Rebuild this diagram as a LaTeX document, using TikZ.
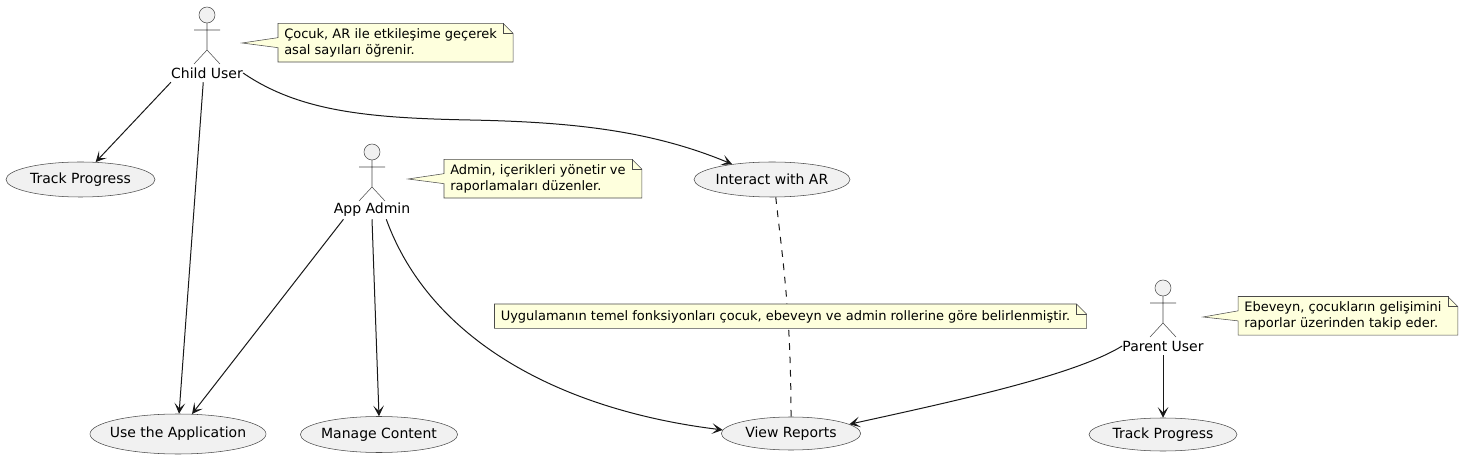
\documentclass[tikz,border=0pt]{standalone}
\usepackage{fontspec}
\setmainfont{DejaVu Sans}
\usetikzlibrary{arrows.meta,shapes.geometric,calc,backgrounds}
\definecolor{inkline}{HTML}{181818}
\definecolor{thinline}{HTML}{4A4A4A}
\definecolor{casefill}{HTML}{F1F1F1}
\definecolor{notefill}{HTML}{FEFFDD}
\tikzset{
  actorname/.style={inner sep=0pt,minimum height=13.5pt,font=\fontsize{10.5}{12}\selectfont,text=black},
  actorline/.style={draw=thinline,line width=.4pt,fill=casefill},
  usecase/.style={ellipse,draw=thinline,line width=.4pt,fill=casefill,inner sep=0pt,font=\fontsize{10.5}{12}\selectfont},
  notetext/.style={inner xsep=4.5pt,inner ysep=3.6pt,align=left,font=\fontsize{9.75}{12}\selectfont,execute at begin node={\rule{0pt}{8.7pt}}},
  noteline/.style={draw=thinline,line width=.4pt,fill=notefill},
  link/.style={draw=inkline,line width=.75pt,-{Stealth[length=8pt,width=8pt,inset=4pt]}},
  dashlink/.style={draw=inkline,line width=.75pt,dash pattern=on 5pt off 5pt},
}
% text of a use case, the ellipse keeps its own size
\newcommand{\casebox}[1]{\makebox[0pt]{#1}}
% stick figure above its name
\newcommand{\actorman}[1]{
  \draw[actorline] ($(#1)+(0,-58)$) circle (8);
  \draw[actorline,fill=none] ($(#1)+(0,-50)$) -- ($(#1)+(0,-23)$)
    ($(#1)+(-13,-43)$) -- ($(#1)+(13,-43)$)
    ($(#1)+(-13,-9)$) -- ($(#1)+(0,-23)$) -- ($(#1)+(13,-9)$);
}
% note outline, #2 is what happens on the left edge
\newcommand{\notebody}[2]{
  \filldraw[noteline] (#1.north west) -- (#1.north east) -- ($(#1.north east)+(10,10)$)
    -- ($(#1.south east)+(10,0)$) -- (#1.south west) -- ($(#1.west)+(0,5)$) #2 ($(#1.west)+(0,-5)$) -- cycle;
  \draw[noteline,fill=none] (#1.north east) -- ($(#1.north east)+(0,10)$) -- ($(#1.north east)+(10,10)$);
}
\begin{document}
\begin{tikzpicture}[x=.75pt,y=-.75pt]
\useasboundingbox (0,0) rectangle (1463,459);
% actors
\node[actorname] (childUser) at (207,73) {Child User};
\node[actorname] (appAdmin) at (372,210) {App Admin};
\node[actorname] (parentUser) at (1163,346) {Parent User};
\actorman{childUser}
\actorman{appAdmin}
\actorman{parentUser}
% use cases
\node[usecase,minimum width=111.75pt,minimum height=26.25pt] (trackChild) at (80.5,179.5) {\casebox{Track Progress}};
\node[usecase,minimum width=117pt,minimum height=26.25pt] (interactAR) at (772,179.5) {\casebox{Interact with AR}};
\node[usecase,minimum width=132pt,minimum height=30pt] (useApp) at (178,434) {\casebox{Use the Application}};
\node[usecase,minimum width=118pt,minimum height=27pt] (manageContent) at (379,434.5) {\casebox{Manage Content}};
\node[usecase,minimum width=104.5pt,minimum height=24.75pt] (viewReports) at (791,433.5) {\casebox{View Reports}};
\node[usecase,minimum width=111pt,minimum height=24.75pt] (trackParent) at (1163,434.5) {\casebox{Track Progress}};
% notes
\node[notetext,anchor=north west] (noteChild) at (278,23.3) {Çocuk, AR ile etkileşime geçerek\\asal sayıları öğrenir.};
\node[notetext,anchor=north west] (noteAdmin) at (444,159.3) {Admin, içerikleri yönetir ve\\raporlamaları düzenler.};
\node[notetext,anchor=north west] (noteParent) at (1238,296.5) {Ebeveyn, çocukların gelişimini\\raporlar üzerinden takip eder.};
\node[notetext,anchor=north west] (noteRoles) at (494.5,304) {Uygulamanın temel fonksiyonları çocuk, ebeveyn ve admin rollerine göre belirlenmiştir.};
\coordinate (tipChild) at (242,43);
\coordinate (tipAdmin) at (408,179);
\coordinate (tipParent) at (1203,317);
\begin{pgfonlayer}{background}
\draw[dashlink] (interactAR.282) .. controls (782,255) and (791,310) .. (viewReports.north);
\notebody{noteChild}{-- (tipChild) --}
\notebody{noteAdmin}{-- (tipAdmin) --}
\notebody{noteParent}{-- (tipParent) --}
\notebody{noteRoles}{--}
\end{pgfonlayer}
% links
\draw[link] (childUser.south west) -- (trackChild.49);
\draw[link] (childUser.248) -- (useApp.87);
\draw[link] (childUser.east) .. controls (300,112) and (370,118) .. (470,120) .. controls (570,122) and (650,130) .. (interactAR.159);
\draw[link] (appAdmin.198) -- (useApp.55);
\draw[link] (appAdmin.south) -- (manageContent.north);
\draw[link] (appAdmin.327) .. controls (430,340) and (560,410) .. (viewReports.177);
\draw[link] (parentUser.west) .. controls (1075,375) and (960,400) .. (viewReports.9.5);
\draw[link] (parentUser.south) -- (trackParent.north);
\end{tikzpicture}
\end{document}
